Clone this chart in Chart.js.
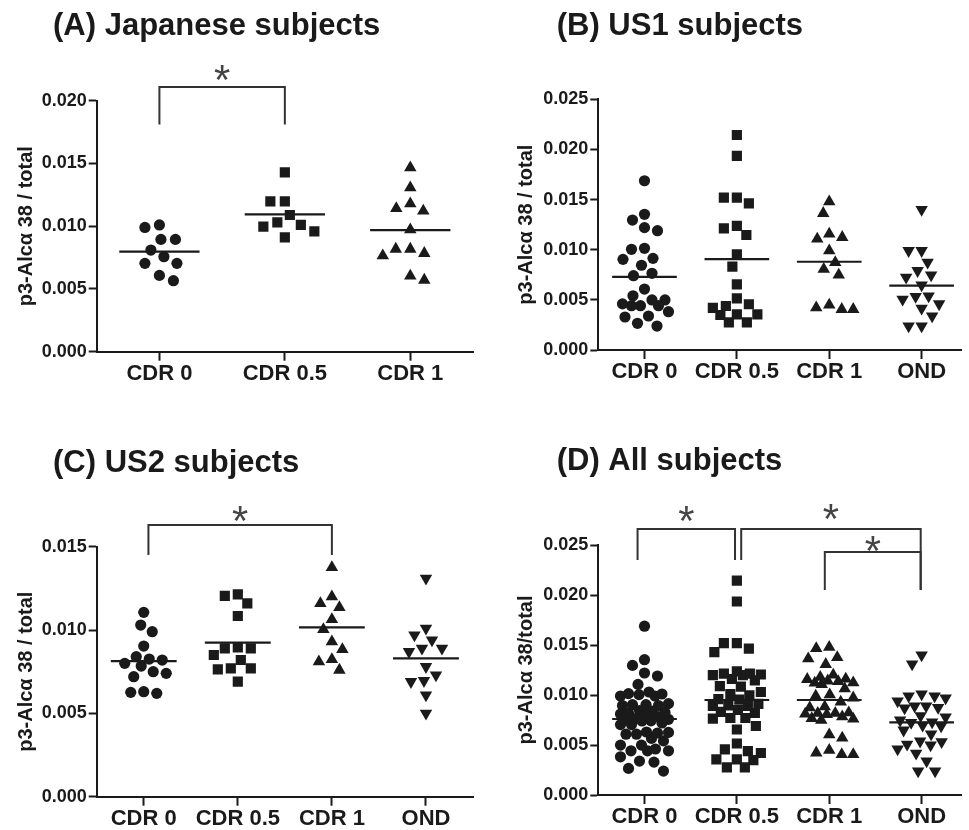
<!DOCTYPE html>
<html>
<head>
<meta charset="utf-8">
<script src="https://cdn.jsdelivr.net/npm/chart.js@4.4.1/dist/chart.umd.min.js"></script>
<style>
  html, body { margin: 0; padding: 0; background: #fff; }
  #wrap { position: relative; width: 969px; height: 830px; overflow: hidden; }
  #wrap canvas { position: absolute; }
</style>
</head>
<body>
<div id="wrap">
  <canvas id="chartA" width="484" height="415" style="left:0;top:0"></canvas>
  <canvas id="chartB" width="485" height="415" style="left:484px;top:0"></canvas>
  <canvas id="chartC" width="484" height="415" style="left:0;top:415px"></canvas>
  <canvas id="chartD" width="485" height="415" style="left:484px;top:415px"></canvas>
</div>
<script>
// groups on the x axis
const groupsJP = ['CDR 0', 'CDR 0.5', 'CDR 1'];
const groupsUS = ['CDR 0', 'CDR 0.5', 'CDR 1', 'OND'];

// y tick labels
const yTicks020 = [0, 0.005, 0.010, 0.015, 0.020];
const yTicks025 = [0, 0.005, 0.010, 0.015, 0.020, 0.025];
const yTicks015 = [0, 0.005, 0.010, 0.015];

// (A) Japanese subjects
const jpCdr0  = [0.0101, 0.0099, 0.00895, 0.00895, 0.0081, 0.00757, 0.00704, 0.00704, 0.00608, 0.00566];
const jpCdr05 = [0.01429, 0.01198, 0.01198, 0.01089, 0.0103, 0.00996, 0.0101, 0.00959, 0.00911];
const jpCdr1  = [0.01466, 0.01307, 0.01142, 0.01121, 0.01179, 0.00972, 0.00818, 0.00784, 0.00765, 0.00818, 0.00571, 0.00603];
const jpMeans = [0.00797, 0.01094, 0.00969];

// (B) US1 subjects
const us1Cdr0  = [0.01688, 0.01353, 0.01296, 0.0122, 0.0119, 0.01014, 0.01004, 0.00904, 0.00914, 0.00845, 0.00765, 0.00741,
                  0.00608, 0.00541, 0.00499, 0.00442, 0.00442, 0.00499, 0.00442, 0.00382, 0.00329, 0.00339, 0.00239, 0.00266, 0.0046];
const us1Cdr05 = [0.02144, 0.01935, 0.01519, 0.01463, 0.01519, 0.01237, 0.01147, 0.01213, 0.00954, 0.00831, 0.00655, 0.00515,
                  0.00456, 0.00439, 0.00356, 0.00349, 0.00356, 0.00276, 0.00276, 0.0042];
const us1Cdr1  = [0.01479, 0.01363, 0.01124, 0.01157, 0.01107, 0.0099, 0.00874, 0.00805, 0.00748, 0.00422, 0.00406, 0.00406, 0.00449];
const us1Ond   = [0.0140, 0.0099, 0.0099, 0.00874, 0.00748, 0.00725, 0.00791, 0.00648, 0.00532, 0.00538, 0.00506, 0.00459,
                  0.00416, 0.00339, 0.00239, 0.00239];
const us1Means = [0.0073, 0.00907, 0.0088, 0.00641];

// (C) US2 subjects
const us2Cdr0  = [0.01106, 0.0103, 0.0099, 0.00904, 0.0084, 0.0082, 0.00826, 0.00784, 0.008, 0.0074, 0.0072, 0.0075, 0.0063, 0.0062, 0.00626];
const us2Cdr05 = [0.01214, 0.01205, 0.0116, 0.01084, 0.0089, 0.0085, 0.00896, 0.0089, 0.0082, 0.0077, 0.00764, 0.0077, 0.0069];
const us2Cdr1  = [0.01376, 0.012, 0.0116, 0.01136, 0.01064, 0.01004, 0.0093, 0.00884, 0.00824, 0.0081, 0.0076];
const us2Ond   = [0.0131, 0.0101, 0.0097, 0.0094, 0.0089, 0.0087, 0.0089, 0.0078, 0.0073, 0.0069, 0.00696, 0.0061, 0.005];
const us2Means = [0.00814, 0.00924, 0.01016, 0.0083];

// (D) All subjects = pooled cohorts
const allCdr0  = jpCdr0.concat(us1Cdr0, us2Cdr0);
const allCdr05 = jpCdr05.concat(us1Cdr05, us2Cdr05);
const allCdr1  = jpCdr1.concat(us1Cdr1, us2Cdr1);
const allOnd   = us1Ond.concat(us2Ond);
const allMeans = [0.0076, 0.0095, 0.0095, 0.00727];

const FONT = '"Liberation Sans", Arial, Helvetica, sans-serif';
const INK = '#1a1a1a';
const SHAPES = [
  { style: 'circle', r: 5.6, rot: 0 },
  { style: 'rect', r: 7.2, rot: 0 },
  { style: 'triangle', r: 7.2, rot: 0 },
  { style: 'triangle', r: 7.2, rot: 180 },
];

function drawStar(ctx, x, y) {
  ctx.font = `normal 100px ${FONT}`;
  let m = ctx.measureText('*');
  const size = 100 * 15 / (m.actualBoundingBoxAscent + m.actualBoundingBoxDescent);
  ctx.font = `normal ${size}px ${FONT}`;
  m = ctx.measureText('*');
  ctx.fillStyle = '#444';
  ctx.textAlign = 'center';
  ctx.textBaseline = 'alphabetic';
  ctx.fillText('*', x, y + (m.actualBoundingBoxAscent - m.actualBoundingBoxDescent) / 2);
}

const marksPlugin = {
  id: 'marks',
  afterDraw(chart, args, opts) {
    const ctx = chart.ctx, xs = chart.scales.x, ys = chart.scales.y;
    ctx.save();
    ctx.fillStyle = INK;
    ctx.font = `bold 31px ${FONT}`;
    ctx.textAlign = 'left';
    ctx.textBaseline = 'alphabetic';
    ctx.fillText(opts.title, opts.titleX, opts.titleY);
    ctx.strokeStyle = '#333';
    ctx.lineWidth = 2;
    (opts.brackets || []).forEach(b => {
      const x1 = xs.getPixelForValue(b.x1), x2 = xs.getPixelForValue(b.x2);
      const yt = ys.getPixelForValue(b.top);
      ctx.beginPath();
      ctx.moveTo(x1, ys.getPixelForValue(b.foot1));
      ctx.lineTo(x1, yt);
      ctx.lineTo(x2, yt);
      ctx.lineTo(x2, ys.getPixelForValue(b.foot2));
      ctx.stroke();
      drawStar(ctx, (x1 + x2) / 2, ys.getPixelForValue(b.star));
    });
    ctx.restore();
  },
};

// spread each column sideways like a Prism dot plot (beeswarm, capped width)
function swarm(chart, limit, d) {
  const xs = chart.scales.x, ys = chart.scales.y;
  const unit = xs.getPixelForValue(2) - xs.getPixelForValue(1);
  chart.data.datasets.forEach((ds, gi) => {
    if (!ds.raw) return;
    const pts = ds.raw.map((v, i) => ({ i, py: ys.getPixelForValue(v) }));
    pts.sort((a, b) => a.py - b.py);
    const placed = [];
    const dx = [];
    let flip = 1;
    pts.forEach(p => {
      let best = null, fallback = 0, fbDist = -1;
      for (let k = 0; k <= limit && best === null; k += 0.5) {
        const cands = k === 0 ? [0] : [-flip * k, flip * k];
        for (const c of cands) {
          let md = Infinity;
          for (const q of placed) {
            const dd = Math.hypot(c - q.x, p.py - q.y);
            if (dd < md) md = dd;
          }
          if (md >= d) { best = c; break; }
          if (md > fbDist + 0.01) { fbDist = md; fallback = c; }
        }
      }
      const x = best !== null ? best : fallback;
      if (x !== 0) flip = -flip;
      placed.push({ x, y: p.py });
      dx[p.i] = x;
    });
    ds.data = ds.raw.map((v, i) => ({ x: gi + 1 + dx[i] / unit, y: v }));
  });
  chart.update('none');
}

function makePanel(id, cfg) {
  const datasets = [];
  cfg.groups.forEach((vals, i) => {
    const sh = SHAPES[i];
    datasets.push({
      label: cfg.cats[i],
      raw: vals,
      data: vals.map(v => ({ x: i + 1, y: v })),
      pointStyle: sh.style,
      pointRadius: sh.r,
      pointHoverRadius: sh.r,
      pointRotation: sh.rot,
      backgroundColor: INK,
      borderColor: INK,
      pointBorderWidth: 0,
      order: 2,
    });
  });
  cfg.means.forEach((m, i) => {
    datasets.push({
      type: 'line',
      label: 'mean ' + cfg.cats[i],
      data: [{ x: i + 1 - cfg.half, y: m }, { x: i + 1 + cfg.half, y: m }],
      showLine: true,
      borderColor: INK,
      borderWidth: 2.2,
      pointRadius: 0,
      order: 1,
    });
  });
  const tickFont = { family: FONT, weight: 'bold' };
  const chart = new Chart(document.getElementById(id), {
    type: 'scatter',
    data: { datasets },
    options: {
      responsive: false,
      animation: false,
      events: [],
      layout: { padding: cfg.pad },
      plugins: {
        legend: { display: false },
        tooltip: { enabled: false },
        marks: cfg.marks,
      },
      scales: {
        x: {
          type: 'linear', min: 0.5, max: cfg.xMax,
          afterBuildTicks: s => { s.ticks = cfg.cats.map((_, i) => ({ value: i + 1 })); },
          afterFit: s => { s.height = cfg.xH; },
          ticks: { callback: v => cfg.cats[v - 1] || '', color: INK, font: { ...tickFont, size: 22 }, padding: 0, autoSkip: false, maxRotation: 0 },
          grid: { drawOnChartArea: false, drawTicks: true, tickLength: 9, tickWidth: 2, tickColor: INK },
          border: { display: true, color: INK, width: 2 },
        },
        y: {
          min: 0, max: cfg.yTicks[cfg.yTicks.length - 1],
          afterBuildTicks: s => { s.ticks = cfg.yTicks.map(v => ({ value: v })); },
          afterFit: s => { s.width = cfg.yW; },
          ticks: { callback: v => v.toFixed(3), color: INK, font: { ...tickFont, size: 18 }, padding: 2 },
          grid: { drawOnChartArea: false, drawTicks: true, tickLength: 8, tickWidth: 2, tickColor: INK },
          border: { display: true, color: INK, width: 2 },
          title: { display: true, text: cfg.yTitle, color: INK, font: { ...tickFont, size: 20 }, padding: { top: cfg.yTitlePad, bottom: 0 } },
        },
      },
    },
    plugins: [marksPlugin],
  });
  swarm(chart, cfg.limit, cfg.gap);
  return chart;
}

makePanel('chartA', {
  cats: groupsJP, groups: [jpCdr0, jpCdr05, jpCdr1], means: jpMeans, half: 0.32,
  yTicks: yTicks020, xMax: 3.5, yW: 96.7, xH: 40, pad: { top: 100.7, right: 11, bottom: 23.3, left: 0 },
  yTitle: 'p3-Alcα 38 / total', yTitlePad: 14, limit: 31, gap: 14.5,
  marks: { title: '(A) Japanese subjects', titleX: 53, titleY: 35,
    brackets: [{ x1: 1.0, x2: 2.0, top: 0.0211, foot1: 0.0181, foot2: 0.0181, star: 0.02225 }] },
});

makePanel('chartB', {
  cats: groupsUS, groups: [us1Cdr0, us1Cdr05, us1Cdr1, us1Ond], means: us1Means, half: 0.35,
  yTicks: yTicks025, xMax: 4.435, yW: 114.3, xH: 40, pad: { top: 99.3, right: 0, bottom: 25, left: 0 },
  yTitle: 'p3-Alcα 38 / total', yTitlePad: 30, limit: 24, gap: 13,
  marks: { title: '(B) US1 subjects', titleX: 72.7, titleY: 35, brackets: [] },
});

makePanel('chartC', {
  cats: groupsUS, groups: [us2Cdr0, us2Cdr05, us2Cdr1, us2Ond], means: us2Means, half: 0.35,
  yTicks: yTicks015, xMax: 4.5, yW: 96.7, xH: 33.3, pad: { top: 131.7, right: 11, bottom: 0, left: 0 },
  yTitle: 'p3-Alcα 38 / total', yTitlePad: 14, limit: 24, gap: 13,
  marks: { title: '(C) US2 subjects', titleX: 53, titleY: 57,
    brackets: [{ x1: 1.05, x2: 3.0, top: 0.0163, foot1: 0.0145, foot2: 0.0145, star: 0.0170 }] },
});

makePanel('chartD', {
  cats: groupsUS, groups: [allCdr0, allCdr05, allCdr1, allOnd], means: allMeans, half: 0.35,
  yTicks: yTicks025, xMax: 4.435, yW: 114.3, xH: 35, pad: { top: 130, right: 0, bottom: 0, left: 0 },
  yTitle: 'p3-Alcα 38/total', yTitlePad: 30, limit: 24, gap: 13,
  marks: { title: '(D) All subjects', titleX: 72.7, titleY: 55,
    brackets: [
      { x1: 0.925, x2: 1.98, top: 0.0266, foot1: 0.0235, foot2: 0.0235, star: 0.0282 },
      { x1: 2.047, x2: 3.99, top: 0.0266, foot1: 0.0235, foot2: 0.0205, star: 0.0284 },
      { x1: 2.952, x2: 3.99, top: 0.0243, foot1: 0.0205, foot2: 0.0205, star: 0.0252 },
    ] },
});
</script>
</body>
</html>
